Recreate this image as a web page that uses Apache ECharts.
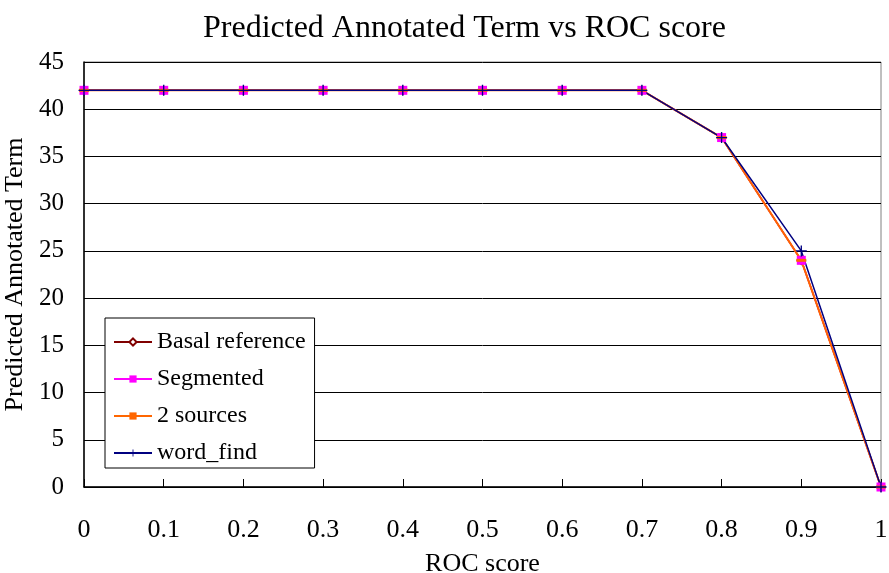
<!DOCTYPE html>
<html>
<head>
<meta charset="utf-8">
<script src="https://cdn.jsdelivr.net/npm/echarts@6/dist/echarts.min.js"></script>
<style>
  html, body { margin: 0; padding: 0; background: #fff; }
  #chart { width: 889px; height: 573px; }
</style>
</head>
<body>
<div id="chart"></div>
<script>
// ROC score thresholds and predicted annotated term counts per method
const rocScores = [0, 0.1, 0.2, 0.3, 0.4, 0.5, 0.6, 0.7, 0.8, 0.9, 1];
const basalReference = [42, 42, 42, 42, 42, 42, 42, 42, 37, 24, 0];
const segmented      = [42, 42, 42, 42, 42, 42, 42, 42, 37, 24, 0];
const twoSources     = [42, 42, 42, 42, 42, 42, 42, 42, 37, 24, 0];
const wordFind       = [42, 42, 42, 42, 42, 42, 42, 42, 37, 25, 0];
const yTicks = [0, 5, 10, 15, 20, 25, 30, 35, 40, 45];

const FONT = '"Liberation Serif", "Times New Roman", serif';
const pairs = vals => rocScores.map((x, i) => [x, vals[i]]);

const plusPath = 'path://M4.4,0H5.6V4.4H10V5.6H5.6V10H4.4V5.6H0V4.4H4.4Z';

const chart = echarts.init(document.getElementById('chart'));
chart.setOption({
  animation: false,
  backgroundColor: '#ffffff',
  textStyle: { fontFamily: FONT },
  title: {
    text: 'Predicted Annotated Term vs ROC score',
    left: 198,
    top: 8,
    textStyle: { fontFamily: FONT, fontSize: 32, fontWeight: 'normal', color: '#000' }
  },
  grid: {
    left: 84, right: 8, top: 62, bottom: 86,
    containLabel: false,
    outerBoundsMode: 'none',
    show: true, borderColor: '#808080', borderWidth: 1, backgroundColor: 'transparent'
  },
  legend: {
    orient: 'vertical',
    left: 105, top: 318,
    padding: [12, 9, 3, 8],
    itemGap: 13,
    itemWidth: 38,
    itemHeight: 9,
    backgroundColor: '#ffffff',
    borderColor: '#000000',
    borderWidth: 1,
    borderRadius: 0,
    textStyle: { fontFamily: FONT, fontSize: 24, color: '#000', lineHeight: 24 },
    data: ['Basal reference', 'Segmented', '2 sources', 'word_find']
  },
  xAxis: {
    type: 'value',
    min: 0, max: 1, interval: 0.1,
    name: 'ROC score',
    nameLocation: 'middle',
    nameGap: 64,
    nameTextStyle: { fontFamily: FONT, fontSize: 26, color: '#000' },
    axisLine: { lineStyle: { color: '#000', width: 1.5 } },
    axisTick: { show: true, inside: true, length: 8, lineStyle: { color: '#000' } },
    axisLabel: { fontFamily: FONT, fontSize: 26, color: '#000', margin: 30,
      formatter: v => String(Math.round(v * 10) / 10) },
    splitLine: { show: false }
  },
  yAxis: {
    type: 'value',
    min: yTicks[0], max: yTicks[yTicks.length - 1], interval: 5,
    name: 'Predicted Annotated Term',
    nameLocation: 'middle',
    nameGap: 51,
    nameTextStyle: { fontFamily: FONT, fontSize: 26, color: '#000' },
    axisLine: { show: true, lineStyle: { color: '#000', width: 1.5 } },
    axisTick: { show: false },
    axisLabel: { fontFamily: FONT, fontSize: 25, color: '#000', margin: 20 },
    splitLine: { show: true, lineStyle: { color: '#000', width: 1 } }
  },
  series: [
    {
      name: 'Basal reference', type: 'line', data: pairs(basalReference),
      symbol: 'diamond', symbolSize: 8, showAllSymbol: true,
      lineStyle: { color: '#800000', width: 1.5 },
      itemStyle: { color: '#ffffff', borderColor: '#800000', borderWidth: 1.5 }
    },
    {
      name: 'Segmented', type: 'line', data: pairs(segmented),
      symbol: 'rect', symbolSize: 9, showAllSymbol: true,
      lineStyle: { color: '#ff00ff', width: 1.5 },
      itemStyle: { color: '#ff00ff', borderWidth: 0 }
    },
    {
      name: '2 sources', type: 'line', data: pairs(twoSources),
      symbol: 'rect', symbolSize: [10, 3], showAllSymbol: true,
      lineStyle: { color: '#ff6600', width: 2 },
      itemStyle: { color: '#ff6600', borderWidth: 0 }
    },
    {
      name: 'word_find', type: 'line', data: pairs(wordFind),
      symbol: plusPath, symbolSize: 11, showAllSymbol: true,
      lineStyle: { color: '#000080', width: 1.5 },
      itemStyle: { color: '#000080', borderWidth: 0 }
    }
  ]
});
</script>
</body>
</html>
